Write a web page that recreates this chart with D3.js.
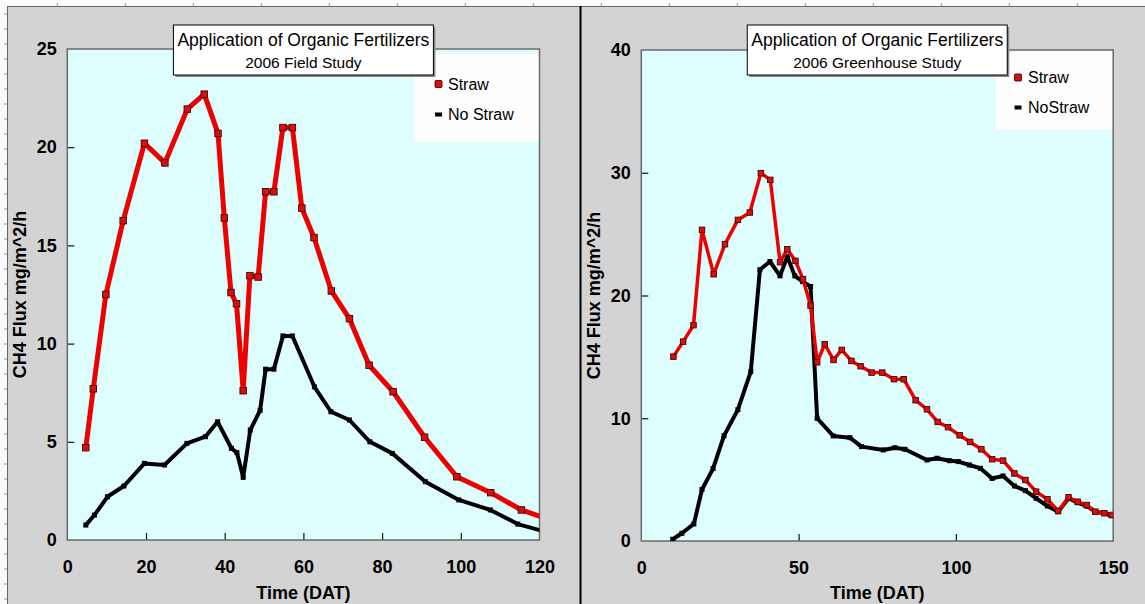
<!DOCTYPE html>
<html lang="en">
<head>
<meta charset="UTF-8">
<title>CH4 Flux - Application of Organic Fertilizers 2006</title>
<script src="https://d3js.org/d3.v7.min.js"></script>
<style>
  body { margin: 0; background: #d3d3d3; }
  svg { display: block; font-family: "Liberation Sans", Arial, Helvetica, sans-serif; }
</style>
</head>
<body>
<div id="chart"></div>
<script>
// Field study (left panel)
const fieldStrawDAT  = [4.7, 6.6, 9.8, 14.2, 19.6, 24.8, 30.5, 34.8, 38.3, 39.9, 41.6, 43.0, 44.7, 46.4, 48.5, 50.4, 52.5, 54.8, 57.2, 59.6, 62.7, 67.1, 71.7, 76.7, 82.8, 90.8, 99.0, 107.6, 115.4, 123];
const fieldStrawFlux = [4.7, 7.7, 12.5, 16.26, 20.2, 19.2, 21.94, 22.7, 20.7, 16.4, 12.6, 12.03, 7.6, 13.46, 13.39, 17.73, 17.73, 21.0, 21.0, 16.9, 15.4, 12.68, 11.27, 8.9, 7.55, 5.23, 3.22, 2.41, 1.53, 1.0];
const fieldNoStrawDAT  = [4.7, 6.9, 10.2, 14.4, 19.6, 24.7, 30.4, 35.1, 38.2, 41.7, 43.1, 44.7, 46.5, 49.0, 50.4, 52.5, 54.8, 57.2, 62.8, 67.0, 71.7, 76.9, 82.6, 91.0, 99.5, 107.5, 114.5, 121];
const fieldNoStrawFlux = [0.76, 1.27, 2.2, 2.75, 3.9, 3.82, 4.92, 5.26, 6.02, 4.67, 4.45, 3.19, 5.6, 6.6, 8.7, 8.7, 10.39, 10.39, 7.8, 6.53, 6.11, 5.0, 4.41, 2.97, 2.04, 1.53, 0.81, 0.45];

// Greenhouse study (right panel)
const ghStrawDAT  = [10.2, 13.3, 16.6, 19.3, 23.0, 26.6, 30.7, 34.5, 38.0, 41.0, 44.1, 46.4, 49.0, 51.4, 53.8, 55.9, 58.3, 61.1, 63.7, 66.8, 69.7, 73.2, 76.6, 80.3, 83.4, 87.2, 90.8, 94.2, 97.5, 101.2, 104.5, 108.1, 111.5, 115.0, 118.6, 122.1, 125.5, 129.1, 132.5, 135.8, 138.7, 141.6, 144.3, 147.2, 149.5];
const ghStrawFlux = [15.02, 16.24, 17.58, 25.35, 21.73, 24.18, 26.16, 26.76, 29.97, 29.42, 22.71, 23.77, 22.82, 21.33, 19.18, 14.56, 16.03, 14.75, 15.57, 14.67, 14.24, 13.72, 13.72, 13.18, 13.18, 11.47, 10.73, 9.7, 9.27, 8.61, 8.07, 7.47, 6.66, 6.55, 5.5, 4.97, 4.02, 3.4, 2.44, 3.56, 3.2, 2.93, 2.39, 2.26, 2.12];
const ghNoStrawDAT  = [10.0, 12.9, 16.7, 19.3, 22.8, 26.3, 30.7, 34.8, 37.7, 40.9, 44.1, 46.4, 48.8, 51.3, 53.8, 55.9, 61.0, 66.3, 70.0, 76.9, 80.6, 83.8, 90.8, 94.0, 98.0, 100.8, 104.3, 107.8, 111.5, 115.0, 118.6, 122.1, 125.5, 129.1, 132.5, 135.8, 138.7, 141.6, 144.3, 147.2, 149.5];
const ghNoStrawFlux = [0.14, 0.63, 1.39, 4.2, 5.9, 8.58, 10.7, 13.8, 22.1, 22.77, 21.6, 23.17, 21.6, 21.13, 20.73, 10.0, 8.56, 8.42, 7.69, 7.42, 7.6, 7.47, 6.6, 6.74, 6.54, 6.47, 6.19, 5.92, 5.1, 5.3, 4.48, 4.1, 3.48, 2.85, 2.39, 3.48, 3.12, 2.85, 2.39, 2.26, 2.07];

const fieldXTicks = [0, 20, 40, 60, 80, 100, 120];
const fieldYTicks = [0, 5, 10, 15, 20, 25];
const ghXTicks = [0, 50, 100, 150];
const ghYTicks = [0, 10, 20, 30, 40];

const W = 1145, H = 604;
const svg = d3.select("#chart").append("svg").attr("width", W).attr("height", H);

// fondo y reglas de la ventana
svg.append("rect").attr("width", W).attr("height", H).attr("fill", "#d3d3d3");
svg.append("rect").attr("width", W).attr("height", 6).attr("fill", "#fbfbfb");
svg.append("rect").attr("width", 7).attr("height", H).attr("fill", "#fbfbfb");
svg.append("g").selectAll("line").data(d3.range(57.3, W, 68)).enter().append("line")
    .attr("x1", d => d).attr("x2", d => d).attr("y1", 3).attr("y2", 6)
    .attr("stroke", "#999").attr("stroke-width", 1);
svg.append("g").selectAll("line").data(d3.range(14, H, 15)).enter().append("line")
    .attr("y1", d => d).attr("y2", d => d).attr("x1", 4).attr("x2", 7)
    .attr("stroke", "#999").attr("stroke-width", 1);
svg.append("line").attr("x1", 7).attr("x2", W).attr("y1", 6.5).attr("y2", 6.5).attr("stroke", "#666");
svg.append("line").attr("x1", 7.5).attr("x2", 7.5).attr("y1", 6).attr("y2", H).attr("stroke", "#666");
// divisor entre paneles
svg.append("line").attr("x1", 580.5).attr("x2", 580.5).attr("y1", 6).attr("y2", H)
    .attr("stroke", "#000").attr("stroke-width", 2);

const panels = [
  {
    id: "field", left: 67.3, right: 539.5, top: 49, bottom: 540,
    xMax: 120, yMax: 25, xTicks: fieldXTicks, yTicks: fieldYTicks,
    subtitle: "2006 Field Study",
    straw: {x: fieldStrawDAT, y: fieldStrawFlux}, noStraw: {x: fieldNoStrawDAT, y: fieldNoStrawFlux},
    labels: ["Straw", "No Straw"],
    redWidth: 5, blackWidth: 4, markSize: 6.5,
    legend: {x: 414, y: 54, w: 126, h: 88, items: [84, 114.5], markX: 438.5, textX: 448}
  },
  {
    id: "gh", left: 641.3, right: 1113.2, top: 50, bottom: 541,
    xMax: 150, yMax: 40, xTicks: ghXTicks, yTicks: ghYTicks,
    subtitle: "2006 Greenhouse Study",
    straw: {x: ghStrawDAT, y: ghStrawFlux}, noStraw: {x: ghNoStrawDAT, y: ghNoStrawFlux},
    labels: ["Straw", "NoStraw"],
    redWidth: 3.5, blackWidth: 4, markSize: 5.5,
    legend: {x: 996, y: 51.5, w: 117, h: 78.5, items: [77.5, 107.5], markX: 1018, textX: 1028}
  }
];

panels.forEach(p => {
  const g = svg.append("g");
  const x = d3.scaleLinear().domain([0, p.xMax]).range([p.left, p.right]);
  const y = d3.scaleLinear().domain([0, p.yMax]).range([p.bottom, p.top]);

  // área del gráfico
  g.append("rect").attr("x", p.left).attr("y", p.top)
      .attr("width", p.right - p.left).attr("height", p.bottom - p.top)
      .attr("fill", "#defdfd");

  // leyenda (fondo blanco)
  g.append("rect").attr("x", p.legend.x).attr("y", p.legend.y)
      .attr("width", p.legend.w).attr("height", p.legend.h).attr("fill", "#fdfdfd");

  g.append("clipPath").attr("id", "clip-" + p.id).append("rect")
      .attr("x", p.left).attr("y", p.top)
      .attr("width", p.right - p.left).attr("height", p.bottom - p.top);

  // ejes con marcas hacia adentro
  const xAxis = g.append("g").attr("transform", `translate(0,${p.bottom})`)
      .call(d3.axisBottom(x).tickValues(p.xTicks).tickSizeInner(-7).tickSizeOuter(0).tickPadding(20));
  const yAxis = g.append("g").attr("transform", `translate(${p.left},0)`)
      .call(d3.axisLeft(y).tickValues(p.yTicks).tickSizeInner(-7).tickSizeOuter(0).tickPadding(10.5));
  [xAxis, yAxis].forEach(a => {
    a.select(".domain").remove();
    a.selectAll(".tick line").attr("stroke", "#111").attr("stroke-width", 1.2);
    a.selectAll(".tick text").attr("fill", "#000").style("font-size", "18px")
        .style("font-weight", "bold").style("font-family", "'Liberation Sans', Arial, sans-serif");
  });
  xAxis.selectAll(".tick").filter(d => d === 0 || d === p.xMax).select("line").remove();
  yAxis.selectAll(".tick").filter(d => d === 0 || d === p.yMax).select("line").remove();

  // borde
  g.append("rect").attr("x", p.left).attr("y", p.top)
      .attr("width", p.right - p.left).attr("height", p.bottom - p.top)
      .attr("fill", "none").attr("stroke", "#6a6a6a").attr("stroke-width", 1.5);

  // series
  const line = d3.line().x(d => x(d[0])).y(d => y(d[1]));
  const straw = d3.zip(p.straw.x, p.straw.y);
  const noStraw = d3.zip(p.noStraw.x, p.noStraw.y);
  const plot = g.append("g").attr("clip-path", `url(#clip-${p.id})`);

  plot.append("path").datum(noStraw).attr("d", line).attr("fill", "none")
      .attr("stroke", "#000").attr("stroke-width", p.blackWidth).attr("stroke-linejoin", "round");
  plot.selectAll(".nsdot").data(noStraw).enter().append("rect")
      .attr("x", d => x(d[0]) - 2.5).attr("y", d => y(d[1]) - 2.5)
      .attr("width", 5).attr("height", 5).attr("fill", "#000");

  plot.append("path").datum(straw).attr("d", line).attr("fill", "none")
      .attr("stroke", "#ee0000").attr("stroke-width", p.redWidth).attr("stroke-linejoin", "round");
  plot.selectAll(".sdot").data(straw).enter().append("rect")
      .attr("x", d => x(d[0]) - p.markSize / 2).attr("y", d => y(d[1]) - p.markSize / 2)
      .attr("width", p.markSize).attr("height", p.markSize)
      .attr("fill", "#d81010").attr("stroke", "#4a0000").attr("stroke-width", 0.9);

  // leyenda
  const lg = g.append("g");
  lg.append("rect").attr("x", p.legend.markX - 3.5).attr("y", p.legend.items[0] - 3.5)
      .attr("width", 7).attr("height", 7).attr("rx", 1)
      .attr("fill", "#d81010").attr("stroke", "#4a0000").attr("stroke-width", 0.9);
  lg.append("rect").attr("x", p.legend.markX - 3.5).attr("y", p.legend.items[1] - 2)
      .attr("width", 7).attr("height", 4).attr("fill", "#000");
  p.labels.forEach((t, i) => {
    lg.append("text").attr("x", p.legend.textX).attr("y", p.legend.items[i])
        .attr("dy", "0.35em").style("font-size", "16px").text(t);
  });

  // título
  const cx = (p.left + p.right) / 2;
  const tb = g.append("g");
  tb.append("rect").attr("x", cx - 128).attr("y", 27).attr("width", 260).attr("height", 50).attr("fill", "#8a8a8a");
  tb.append("rect").attr("x", cx - 130).attr("y", 25).attr("width", 260).attr("height", 50)
      .attr("fill", "#fff").attr("stroke", "#000").attr("stroke-width", 1);
  tb.append("text").attr("x", cx).attr("y", 40).attr("dy", "0.35em").attr("text-anchor", "middle")
      .style("font-size", "17.5px").text("Application of Organic Fertilizers");
  tb.append("text").attr("x", cx).attr("y", 62.5).attr("dy", "0.35em").attr("text-anchor", "middle")
      .style("font-size", "15.5px").text(p.subtitle);

  // títulos de ejes
  g.append("text").attr("x", cx).attr("y", 598.5).attr("text-anchor", "middle")
      .style("font-size", "18px").style("font-weight", "bold").text("Time (DAT)");
  g.append("text")
      .attr("transform", `translate(${p.left - 48},${(p.top + p.bottom) / 2}) rotate(-90)`)
      .attr("dy", "0.35em").attr("text-anchor", "middle")
      .style("font-size", "18px").style("font-weight", "bold").text("CH4 Flux mg/m^2/h");
});
</script>
</body>
</html>
